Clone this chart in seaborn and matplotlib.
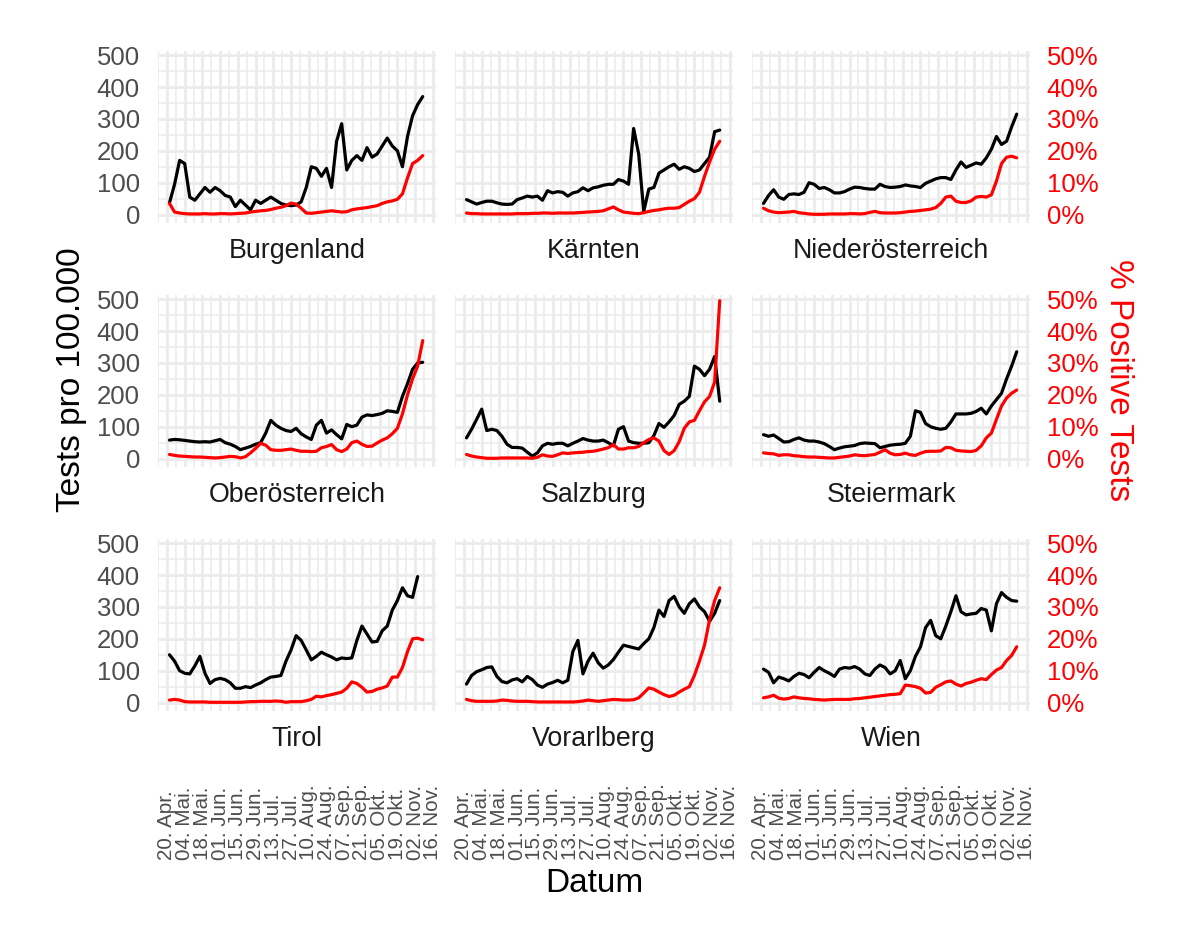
import numpy as np
import pandas as pd
import matplotlib
matplotlib.use("Agg")
import matplotlib.pyplot as plt
import seaborn as sns

# ---------------- data ----------------
dates = pd.date_range("2020-04-22", periods=51, freq="4D")

regions = ["Burgenland", "Kärnten", "Niederösterreich",
           "Oberösterreich", "Salzburg", "Steiermark",
           "Tirol", "Vorarlberg", "Wien"]

nan = np.nan

burgenland_tests = [37, 95, 170, 160, 55, 45, 65, 85, 70, 85, 75, 60, 55, 25, 45, 30, 15, 45, 35, 45,
                    55, 45, 35, 30, 28, 30, 40, 85, 150, 145, 120, 145, 85, 230, 285, 140, 170, 185, 170, 210,
                    180, 190, 215, 240, 215, 200, 150, 245, 310, 345, 370]
burgenland_pos = [3.5, 0.8, 0.5, 0.3, 0.2, 0.2, 0.2, 0.3, 0.2, 0.2, 0.3, 0.3, 0.2, 0.3, 0.4, 0.5, 0.8, 1.0, 1.2, 1.3,
                  1.6, 2.0, 2.3, 2.8, 3.6, 3.3, 2.0, 0.5, 0.4, 0.6, 0.8, 1.0, 1.2, 1.0, 0.8, 0.9, 1.5, 1.8, 2.0, 2.2,
                  2.5, 2.8, 3.5, 4.0, 4.3, 4.8, 6.5, 11.5, 16.0, 17.0, 18.5]

kaernten_tests = [47, 40, 33, 38, 42, 42, 37, 33, 32, 33, 47, 52, 58, 55, 58, 45, 75, 68, 72, 70,
                  58, 68, 72, 84, 75, 84, 87, 92, 95, 95, 110, 105, 95, 270, 190, 10, 80, 85, 130, 140,
                  150, 158, 142, 150, 145, 135, 140, 160, 180, 260, 265]
kaernten_pos = [0.5, 0.3, 0.3, 0.2, 0.2, 0.2, 0.2, 0.2, 0.2, 0.2, 0.3, 0.3, 0.3, 0.4, 0.4, 0.5, 0.5, 0.4, 0.5, 0.5,
                0.5, 0.5, 0.6, 0.7, 0.8, 0.9, 1.0, 1.2, 1.8, 2.4, 1.5, 0.8, 0.6, 0.4, 0.3, 0.6, 1.0, 1.3, 1.5, 1.8,
                2.0, 2.0, 2.2, 3.2, 4.2, 5.0, 7.0, 12.0, 16.5, 20.5, 23.0]

niederoesterreich_tests = [35, 60, 78, 55, 48, 63, 65, 63, 70, 100, 95, 82, 85, 78, 68, 68, 72, 80, 86, 85,
                           82, 80, 80, 95, 88, 85, 86, 88, 93, 90, 88, 85, 98, 105, 112, 116, 116, 110, 140, 165,
                           148, 155, 162, 158, 178, 205, 245, 220, 230, 275, 315]
niederoesterreich_pos = [2.0, 1.2, 0.8, 0.6, 0.7, 0.8, 1.0, 0.6, 0.4, 0.2, 0.1, 0.1, 0.1, 0.2, 0.2, 0.2, 0.2, 0.3, 0.3, 0.2,
                         0.3, 0.7, 1.0, 0.6, 0.5, 0.5, 0.5, 0.6, 0.8, 1.0, 1.1, 1.3, 1.5, 1.7, 2.2, 3.5, 5.5, 5.8, 4.2, 3.8,
                         3.8, 4.3, 5.5, 5.7, 5.5, 6.2, 10.5, 16.0, 18.0, 18.3, 17.8]

oberoesterreich_tests = [58, 60, 59, 57, 55, 53, 52, 53, 52, 56, 60, 50, 45, 38, 28, 33, 38, 45, 50, 80,
                         120, 105, 95, 88, 85, 95, 78, 68, 60, 105, 120, 80, 90, 75, 62, 107, 100, 105, 130, 137,
                         135, 138, 142, 150, 148, 145, 195, 235, 280, 300, 302]
oberoesterreich_pos = [1.3, 1.0, 0.8, 0.7, 0.6, 0.5, 0.5, 0.4, 0.3, 0.2, 0.3, 0.5, 0.7, 0.6, 0.2, 0.6, 1.8, 3.2, 4.8, 4.2,
                       2.8, 2.6, 2.6, 2.8, 3.0, 2.6, 2.3, 2.3, 2.2, 2.3, 3.4, 3.8, 4.4, 2.8, 2.2, 3.0, 5.0, 5.5, 4.5, 3.8,
                       3.9, 4.9, 5.8, 6.5, 7.8, 9.5, 14.0, 20.0, 25.0, 29.0, 37.0]

salzburg_tests = [65, 92, 123, 155, 88, 92, 88, 70, 45, 35, 35, 33, 20, 8, 18, 40, 48, 45, 48, 48,
                  40, 48, 55, 63, 58, 55, 55, 58, 50, 40, 92, 100, 55, 50, 48, 48, 50, 72, 110, 98,
                  115, 135, 170, 180, 195, 290, 280, 260, 280, 320, 180]
salzburg_pos = [1.3, 0.8, 0.5, 0.3, 0.1, 0.1, 0.1, 0.2, 0.2, 0.2, 0.2, 0.2, 0.2, 0.1, 0.4, 1.2, 0.8, 0.7, 1.2, 1.8,
                1.6, 1.8, 1.9, 2.0, 2.2, 2.3, 2.6, 3.0, 3.4, 4.4, 3.0, 3.0, 3.4, 3.4, 3.8, 5.0, 6.0, 6.5, 5.5, 2.5,
                1.3, 2.5, 5.3, 9.5, 11.5, 12.0, 15.0, 17.8, 19.5, 24.0, 49.5]

steiermark_tests = [75, 70, 74, 63, 52, 53, 60, 65, 58, 55, 55, 52, 47, 38, 28, 33, 37, 39, 41, 47,
                    49, 48, 47, 34, 38, 42, 44, 45, 48, 70, 150, 145, 110, 100, 95, 92, 95, 115, 140, 140,
                    140, 142, 148, 158, 140, 165, 185, 205, 250, 290, 335]
steiermark_pos = [1.8, 1.6, 1.5, 1.0, 1.2, 1.2, 0.9, 0.8, 0.6, 0.5, 0.5, 0.4, 0.3, 0.2, 0.2, 0.4, 0.6, 0.8, 1.2, 1.0,
                  0.9, 1.1, 1.3, 2.0, 2.8, 1.7, 1.2, 1.3, 1.7, 1.2, 1.0, 1.7, 2.2, 2.3, 2.3, 2.4, 3.5, 3.4, 2.6, 2.4,
                  2.3, 2.2, 2.6, 4.0, 6.5, 8.0, 12.3, 16.5, 19.0, 20.5, 21.5]

tirol_tests = [150, 130, 100, 92, 90, 115, 145, 92, 60, 72, 76, 72, 62, 45, 45, 50, 47, 55, 62, 72,
               80, 82, 85, 130, 165, 210, 195, 165, 134, 145, 158, 150, 143, 134, 140, 138, 140, 195, 240, 215,
               190, 192, 225, 240, 290, 320, 360, 335, 330, 395, nan]
tirol_pos = [0.8, 1.0, 0.8, 0.3, 0.2, 0.2, 0.2, 0.2, 0.1, 0.1, 0.1, 0.1, 0.1, 0.1, 0.1, 0.2, 0.3, 0.3, 0.4, 0.4,
             0.4, 0.5, 0.4, 0.1, 0.3, 0.3, 0.3, 0.6, 1.0, 2.0, 1.8, 2.2, 2.5, 2.9, 3.3, 4.5, 6.5, 6.0, 4.8, 3.3,
             3.5, 4.2, 4.6, 5.2, 8.0, 8.0, 11.0, 16.0, 20.0, 20.2, 19.7]

vorarlberg_tests = [58, 85, 97, 103, 110, 112, 82, 66, 62, 71, 75, 65, 82, 72, 55, 48, 58, 63, 70, 62,
                    70, 160, 195, 90, 130, 155, 125, 108, 118, 135, 158, 180, 176, 172, 168, 185, 200, 235, 290, 270,
                    320, 333, 300, 280, 310, 325, 300, 285, 255, 280, 320]
vorarlberg_pos = [1.0, 0.6, 0.4, 0.4, 0.4, 0.4, 0.5, 0.8, 0.7, 0.5, 0.4, 0.4, 0.4, 0.3, 0.2, 0.2, 0.2, 0.2, 0.2, 0.2,
                  0.2, 0.2, 0.3, 0.5, 0.8, 0.6, 0.4, 0.6, 0.8, 1.0, 0.9, 0.8, 0.8, 0.9, 1.5, 3.0, 4.6, 4.2, 3.3, 2.5,
                  1.9, 2.3, 3.3, 4.2, 5.0, 8.5, 13.0, 18.0, 26.0, 32.0, 36.0]

wien_tests = [105, 95, 62, 80, 75, 68, 82, 92, 88, 78, 95, 110, 100, 92, 82, 105, 110, 108, 113, 105,
              90, 85, 105, 118, 110, 90, 100, 132, 75, 100, 145, 175, 235, 258, 210, 200, 240, 285, 335, 285,
              275, 278, 280, 295, 290, 225, 310, 345, 330, 320, 318]
wien_pos = [1.5, 1.8, 2.3, 1.4, 1.1, 1.3, 1.8, 1.5, 1.3, 1.2, 1.0, 0.9, 0.8, 0.9, 1.0, 1.0, 1.0, 1.0, 1.2, 1.3,
            1.5, 1.7, 1.9, 2.1, 2.3, 2.5, 2.6, 2.8, 5.5, 5.3, 5.0, 4.5, 3.0, 3.2, 4.8, 5.6, 6.5, 6.8, 5.8, 5.2,
            6.0, 6.4, 7.0, 7.5, 7.2, 8.8, 10.2, 11.0, 13.2, 14.8, 17.5]

tests = [burgenland_tests, kaernten_tests, niederoesterreich_tests,
         oberoesterreich_tests, salzburg_tests, steiermark_tests,
         tirol_tests, vorarlberg_tests, wien_tests]
positives = [burgenland_pos, kaernten_pos, niederoesterreich_pos,
             oberoesterreich_pos, salzburg_pos, steiermark_pos,
             tirol_pos, vorarlberg_pos, wien_pos]

tick_dates = pd.date_range("2020-04-20", "2020-11-16", freq="14D")
tick_labels = ["20. Apr.", "04. Mai.", "18. Mai.", "01. Jun.", "15. Jun.", "29. Jun.",
               "13. Jul.", "27. Jul.", "10. Aug.", "24. Aug.", "07. Sep.", "21. Sep.",
               "05. Okt.", "19. Okt.", "02. Nov.", "16. Nov."]
minor_dates = pd.date_range("2020-04-13", "2020-11-09", freq="14D")
y_ticks = [0, 100, 200, 300, 400, 500]
y_minor = [50, 150, 250, 350, 450]
pct_ticks = [0, 10, 20, 30, 40, 50]
pct_labels = ["0%", "10%", "20%", "30%", "40%", "50%"]

# ---------------- styling ----------------
sns.set_theme(style="white")
plt.rcParams["font.family"] = ["Liberation Sans", "DejaVu Sans"]

W, H = 1200, 939
fig = plt.figure(figsize=(W / 100, H / 100), dpi=100)
fig.patch.set_facecolor("white")

col_left = [158, 455, 752]
pw = 278
row_top = [50.5, 294.5, 538.5]
ph = 172
grid_col = "#ebebeb"
tick_col = "#4d4d4d"

xmin = pd.Timestamp("2020-04-12 22:00")
xmax = pd.Timestamp("2020-11-18 12:00")

for i, reg in enumerate(regions):
    r, c = divmod(i, 3)
    ax = fig.add_axes([col_left[c] / W, 1 - (row_top[r] + ph) / H, pw / W, ph / H])
    df = pd.DataFrame({"Datum": dates, "tests": tests[i], "pos": positives[i]})

    ax2 = ax.twinx()
    sns.lineplot(data=df, x="Datum", y="tests", ax=ax, color="black", linewidth=2.3)
    sns.lineplot(data=df, x="Datum", y="pos", ax=ax2, color="#ff0000", linewidth=2.3)

    for a in (ax, ax2):
        for s in a.spines.values():
            s.set_visible(False)
        a.set_xlabel("")
        a.set_ylabel("")

    ax.set_xlim(xmin, xmax)
    ax.set_ylim(-24.75, 514.5)
    ax2.set_ylim(-2.475, 51.45)

    ax.set_xticks(tick_dates)
    ax.set_xticks(minor_dates, minor=True)
    ax.set_yticks(y_ticks)
    ax.set_yticks(y_minor, minor=True)
    ax.set_axisbelow(True)
    ax.grid(which="major", color=grid_col, linewidth=2.0)
    ax.grid(which="minor", color=grid_col, linewidth=1.1)
    ax2.grid(False)

    ax.tick_params(axis="both", which="both", length=0)
    ax.tick_params(axis="y", labelsize=18.5, labelcolor=tick_col, pad=13)
    if c == 0:
        ax.set_yticklabels([str(v) for v in y_ticks])
    else:
        ax.tick_params(axis="y", labelleft=False)

    ax2.set_yticks(pct_ticks)
    ax2.tick_params(axis="y", which="both", length=0, labelsize=18.5,
                    labelcolor="#ff0000", pad=12)
    if c == 2:
        ax2.set_yticklabels(pct_labels)
    else:
        ax2.tick_params(axis="y", labelright=False)

    if r == 2:
        ax.set_xticklabels(tick_labels)
        ax.tick_params(axis="x", labelsize=14.9, labelcolor=tick_col, pad=107.5)
        for lab in ax.get_xticklabels():
            lab.set_rotation(90)
            lab.set_va("bottom")
            lab.set_ha("center")
    else:
        ax.tick_params(axis="x", labelbottom=False)

    ax.text(0.5, -28.0 / ph, reg, transform=ax.transAxes, ha="center", va="center",
            fontsize=19.3, color="#1a1a1a")

fig.text(72 / W, 1 - 380 / H, "Tests pro 100.000", rotation=90, ha="center", va="center",
         fontsize=24, color="black")
fig.text(1119 / W, 1 - 380 / H, "% Positive Tests", rotation=270, ha="center", va="center",
         fontsize=24, color="#ff0000")
fig.text(594 / W, 1 - 883 / H, "Datum", ha="center", va="center", fontsize=24, color="black")

fig.savefig("out.png", dpi=100)
